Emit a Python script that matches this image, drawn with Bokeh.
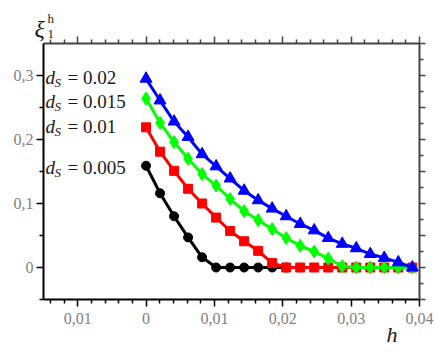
from bokeh.plotting import figure
from bokeh.models import Range1d, LinearAxis, FixedTicker, Label, ColumnDataSource
from bokeh.core.properties import value
from bokeh.embed import file_html
from bokeh.resources import INLINE

# ---- data ----
h = [0.0, 0.00205, 0.0041, 0.00615, 0.0082, 0.01025, 0.0123, 0.01435, 0.0164, 0.01845,
     0.0205, 0.02255, 0.0246, 0.02665, 0.0287, 0.03075, 0.0328, 0.03485, 0.0369, 0.03895]
xi_005 = [0.159, 0.116, 0.080, 0.047, 0.016, 0.0, 0.0, 0.0, 0.0, 0.0, 0.0]
xi_010 = [0.219, 0.181, 0.151, 0.123, 0.100, 0.078, 0.057, 0.041, 0.026, 0.007,
          0.0, 0.0, 0.0, 0.0, 0.0, 0.0, 0.0, 0.0, 0.0, 0.0]
xi_015 = [0.264, 0.226, 0.196, 0.170, 0.146, 0.128, 0.107, 0.088, 0.074, 0.060,
          0.046, 0.034, 0.025, 0.014, 0.002, 0.0, 0.0, 0.0, 0.0, 0.0]
xi_020 = [0.295, 0.261, 0.228, 0.204, 0.177, 0.158, 0.139, 0.120, 0.105, 0.092,
          0.080, 0.068, 0.058, 0.046, 0.037, 0.030, 0.021, 0.015, 0.008, 0.0]

ds_values = ["0.02", "0.015", "0.01", "0.005"]
ds_label_y = [0.297, 0.260, 0.220, 0.156]

x_major = [-0.01, 0.0, 0.01, 0.02, 0.03, 0.04]
x_major_labels = ["0,01", "0", "0,01", "0,02", "0,03", "0,04"]
x_minor = [-0.014, -0.012, -0.008, -0.006, -0.004, -0.002, 0.002, 0.004, 0.006, 0.008,
           0.012, 0.014, 0.016, 0.018, 0.022, 0.024, 0.026, 0.028, 0.032, 0.034, 0.036, 0.038]
y_major = [0.0, 0.1, 0.2, 0.3]
y_major_labels = ["0", "0,1", "0,2", "0,3"]
y_minor = [-0.05, 0.05, 0.15, 0.25]
y_right_major = [-0.05, 0.0, 0.05, 0.1, 0.15, 0.2, 0.25, 0.3, 0.35]
y_right_minor = [-0.025, 0.025, 0.075, 0.125, 0.175, 0.225, 0.275, 0.325]

SERIF = "'Liberation Serif'"
GRAY = "#808080"
INK = "#1a1a1a"

p = figure(width=436, height=354, output_backend="svg", toolbar_location=None,
           x_range=Range1d(-0.015, 0.04), y_range=Range1d(-0.05, 0.35),
           min_border_left=43, min_border_right=17, min_border_top=43, min_border_bottom=55)
p.outline_line_color = None
p.xgrid.visible = False
p.ygrid.visible = False
p.background_fill_color = "white"
p.border_fill_color = "white"


def style_axis(ax, color="black", width=2, label_size="16px", standoff=4, tout=7, mout=4):
    ax.axis_line_color = color
    ax.axis_line_width = width
    ax.major_tick_line_color = color
    ax.minor_tick_line_color = color
    ax.major_tick_line_width = 1.5
    ax.minor_tick_line_width = 1.5
    ax.major_tick_out = tout
    ax.major_tick_in = 0
    ax.minor_tick_out = mout
    ax.minor_tick_in = 0
    ax.major_label_text_font = SERIF
    ax.major_label_text_font_size = label_size
    ax.major_label_text_color = GRAY
    ax.major_label_standoff = standoff


xb = p.xaxis[0]
xb.ticker = FixedTicker(ticks=x_major, minor_ticks=x_minor)
xb.major_label_overrides = dict(zip(x_major, x_major_labels))
style_axis(xb, standoff=6)

yl = p.yaxis[0]
yl.ticker = FixedTicker(ticks=y_major, minor_ticks=y_minor)
yl.major_label_overrides = dict(zip(y_major, y_major_labels))
style_axis(yl, standoff=3)

xt = LinearAxis(ticker=FixedTicker(ticks=x_major, minor_ticks=x_minor))
style_axis(xt, color="#444444", label_size="0px", standoff=0)
xt.major_label_overrides = {v: "" for v in x_major}
p.add_layout(xt, "above")

yr = LinearAxis(ticker=FixedTicker(ticks=y_right_major, minor_ticks=y_right_minor))
style_axis(yr, color="#444444", label_size="0px", standoff=0, tout=6, mout=4)
yr.major_label_overrides = {v: "" for v in y_right_major}
p.add_layout(yr, "right")

# ---- series ----
series = [
    (h[:len(xi_005)], xi_005, "black", "circle", 9),
    (h, xi_010, "#ff0000", "square", 9),
    (h, xi_015, "#00ff00", "diamond", 13),
    (h, xi_020, "#0000ff", "triangle", 12),
]
for xs, ys, col, mk, sz in series:
    p.line(xs, ys, line_color=col, line_width=3)
    p.scatter(xs, ys, marker=mk, size=sz, fill_color=col, line_color=col)

# ---- d_S labels ----
lab_src = ColumnDataSource(dict(x=[-0.0147] * len(ds_values), y=ds_label_y,
                                d=["d"] * len(ds_values), s=["S"] * len(ds_values),
                                rest=["= " + v for v in ds_values]))
p.text(x="x", y="y", text="d", source=lab_src, text_font=value(SERIF), text_font_style="italic",
       text_font_size="19px", text_baseline="middle", text_color=INK)
p.text(x="x", y="y", text="s", source=lab_src, text_font=value(SERIF), text_font_style="italic",
       text_font_size="13px", text_baseline="middle", x_offset=9, y_offset=5, text_color=INK)
p.text(x="x", y="y", text="rest", source=lab_src, text_font=value(SERIF),
       text_font_size="19px", text_baseline="middle", x_offset=22, text_color=INK)

# ---- axis titles, each in a side panel with room for it (not clipped to the frame) ----
p.add_layout(Label(x=34, y=28, x_units="canvas", y_units="canvas", text="ξ", text_font=SERIF,
                   text_font_style="italic", text_font_size="24px", text_color=INK,
                   text_baseline="alphabetic"), "above")
p.add_layout(Label(x=47, y=18, x_units="canvas", y_units="canvas", text="h", text_font=SERIF,
                   text_font_size="13px", text_color=INK, text_baseline="alphabetic"), "left")
p.add_layout(Label(x=47, y=33, x_units="canvas", y_units="canvas", text="1", text_font=SERIF,
                   text_font_size="13px", text_color=INK, text_baseline="alphabetic"), "below")
p.add_layout(Label(x=386, y=334, x_units="canvas", y_units="canvas", text="h", text_font=SERIF,
                   text_font_style="italic", text_font_size="22px", text_color=INK,
                   text_baseline="alphabetic"), "right")

open("out.html", "w").write(file_html(p, INLINE))
